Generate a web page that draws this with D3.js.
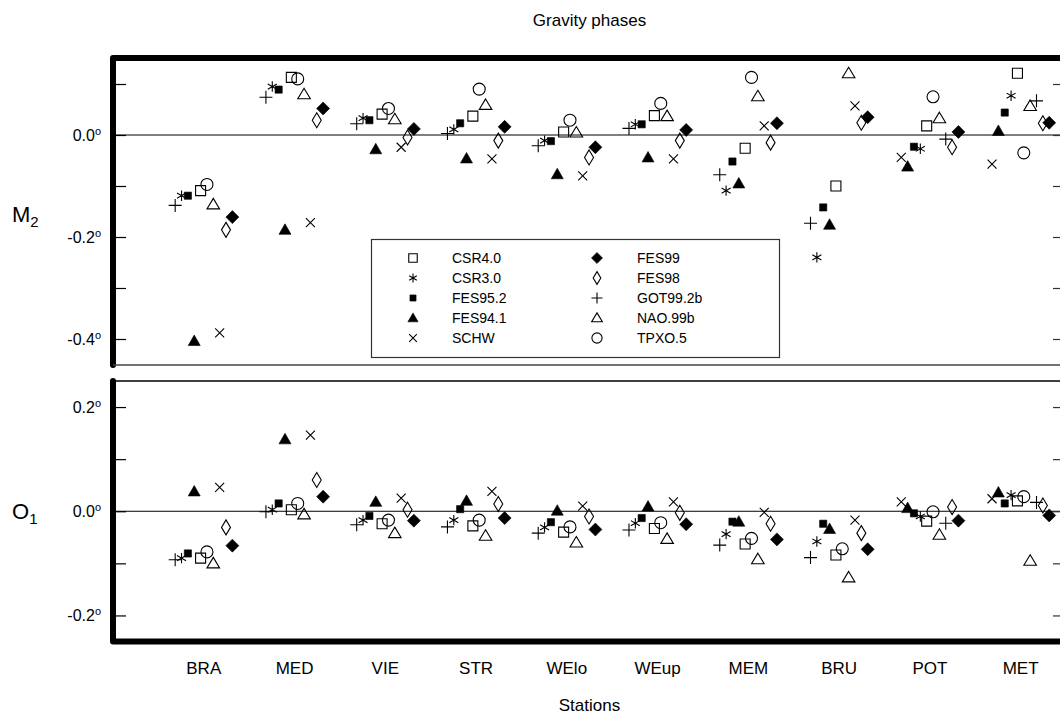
<!DOCTYPE html>
<html>
<head>
<meta charset="utf-8">
<script src="https://cdn.jsdelivr.net/npm/d3@7"></script>
<style>
  html, body { margin: 0; padding: 0; background: #fff; }
  svg { display: block; font-family: "Liberation Sans", Arial, Helvetica, sans-serif; }
</style>
</head>
<body>
<svg id="chart" width="1060" height="719"></svg>
<script>
// Stations along the x axis
const stations = ["BRA", "MED", "VIE", "STR", "WElo", "WEup", "MEM", "BRU", "POT", "MET"];

// Tide models (legend order: left column, then right column)
const models = ["CSR4.0", "CSR3.0", "FES95.2", "FES94.1", "SCHW",
                "FES99", "FES98", "GOT99.2b", "NAO.99b", "TPXO.5"];

// Side-by-side slot order of the models inside each station group
const slotsWest = ["GOT99.2b", "CSR3.0", "FES95.2", "FES94.1", "CSR4.0", "TPXO.5", "NAO.99b", "SCHW", "FES98", "FES99"];
const slotsEast = ["SCHW", "FES94.1", "FES95.2", "CSR3.0", "CSR4.0", "TPXO.5", "NAO.99b", "GOT99.2b", "FES98", "FES99"];
const eastStations = ["POT", "MET"];

// M2 gravity phases (degrees), one value per station
const m2_CSR40  = [-0.109, 0.113, 0.041, 0.037, 0.006, 0.038, -0.026, -0.100, 0.018, 0.121];
const m2_CSR30  = [-0.119, 0.095, 0.033, 0.011, -0.011, 0.021, -0.109, -0.240, -0.027, 0.077];
const m2_FES952 = [-0.119, 0.089, 0.029, 0.023, -0.012, 0.021, -0.052, -0.142, -0.023, 0.044];
const m2_FES941 = [-0.404, -0.186, -0.028, -0.046, -0.077, -0.044, -0.095, -0.176, -0.062, 0.008];
const m2_SCHW   = [-0.388, -0.172, -0.024, -0.047, -0.080, -0.047, 0.018, 0.057, -0.044, -0.057];
const m2_FES99  = [-0.161, 0.052, 0.012, 0.016, -0.024, 0.010, 0.023, 0.035, 0.006, 0.024];
const m2_FES98  = [-0.186, 0.029, -0.005, -0.011, -0.044, -0.011, -0.015, 0.024, -0.024, 0.023];
const m2_GOT    = [-0.138, 0.074, 0.022, 0.003, -0.021, 0.013, -0.078, -0.173, -0.008, 0.067];
const m2_NAO    = [-0.136, 0.080, 0.031, 0.059, 0.005, 0.037, 0.076, 0.121, 0.033, 0.057];
const m2_TPXO   = [-0.097, 0.110, 0.052, 0.090, 0.029, 0.062, 0.113, null, 0.075, -0.035];

// O1 gravity phases (degrees), one value per station
const o1_CSR40  = [-0.090, 0.003, -0.024, -0.028, -0.040, -0.033, -0.063, -0.084, -0.019, 0.020];
const o1_CSR30  = [-0.090, 0.003, -0.017, -0.017, -0.031, -0.023, -0.044, -0.058, -0.010, 0.031];
const o1_FES952 = [-0.081, 0.015, -0.009, 0.004, -0.021, -0.013, -0.020, -0.024, -0.004, 0.015];
const o1_FES941 = [0.038, 0.138, 0.018, 0.020, 0.001, 0.009, -0.020, -0.034, 0.006, 0.036];
const o1_SCHW   = [0.046, 0.146, 0.025, 0.038, 0.010, 0.018, -0.002, -0.017, 0.018, 0.024];
const o1_FES99  = [-0.066, 0.028, -0.018, -0.013, -0.035, -0.025, -0.054, -0.073, -0.018, -0.008];
const o1_FES98  = [-0.031, 0.060, 0.003, 0.014, -0.010, -0.003, -0.024, -0.042, 0.008, 0.011];
const o1_GOT    = [-0.093, -0.001, -0.026, -0.030, -0.042, -0.036, -0.065, -0.089, -0.023, 0.017];
const o1_NAO    = [-0.100, -0.006, -0.042, -0.047, -0.060, -0.053, -0.092, -0.127, -0.045, -0.095];
const o1_TPXO   = [-0.078, 0.015, -0.017, -0.017, -0.030, -0.022, -0.052, -0.072, -0.001, 0.028];

// Tick values
const m2Ticks = [0.1, 0.0, -0.1, -0.2, -0.3, -0.4];
const m2Labels = [0.0, -0.2, -0.4];
const o1Ticks = [0.2, 0.1, 0.0, -0.1, -0.2];
const o1Labels = [0.2, 0.0, -0.2];

const m2Series = {
  "CSR4.0": m2_CSR40, "CSR3.0": m2_CSR30, "FES95.2": m2_FES952, "FES94.1": m2_FES941, "SCHW": m2_SCHW,
  "FES99": m2_FES99, "FES98": m2_FES98, "GOT99.2b": m2_GOT, "NAO.99b": m2_NAO, "TPXO.5": m2_TPXO
};
const o1Series = {
  "CSR4.0": o1_CSR40, "CSR3.0": o1_CSR30, "FES95.2": o1_FES952, "FES94.1": o1_FES941, "SCHW": o1_SCHW,
  "FES99": o1_FES99, "FES98": o1_FES98, "GOT99.2b": o1_GOT, "NAO.99b": o1_NAO, "TPXO.5": o1_TPXO
};

// Marker shape per model
const shapeOf = {
  "CSR4.0": "square", "CSR3.0": "asterisk", "FES95.2": "fsquare", "FES94.1": "ftriangle", "SCHW": "cross",
  "FES99": "fdiamond", "FES98": "odiamond", "GOT99.2b": "plus", "NAO.99b": "otriangle", "TPXO.5": "circle"
};

function symbolPath(kind, k) {
  const s = v => (v * k).toFixed(2);
  switch (kind) {
    case "square":    return `M${s(-5)},${s(-5)}H${s(5)}V${s(5)}H${s(-5)}Z`;
    case "fsquare":   return `M${s(-3.6)},${s(-3.6)}H${s(3.6)}V${s(3.6)}H${s(-3.6)}Z`;
    case "ftriangle": return `M0,${s(-6)}L${s(6)},${s(4.5)}L${s(-6)},${s(4.5)}Z`;
    case "otriangle": return `M0,${s(-6)}L${s(6.3)},${s(4.5)}L${s(-6.3)},${s(4.5)}Z`;
    case "cross":     return `M${s(-4.5)},${s(-4.5)}L${s(4.5)},${s(4.5)}M${s(-4.5)},${s(4.5)}L${s(4.5)},${s(-4.5)}`;
    case "plus":      return `M${s(-6.5)},0H${s(6.5)}M0,${s(-6.5)}V${s(6.5)}`;
    case "fdiamond":  return `M0,${s(-6.5)}L${s(6.5)},0L0,${s(6.5)}L${s(-6.5)},0Z`;
    case "odiamond":  return `M0,${s(-7.5)}L${s(4.5)},0L0,${s(7.5)}L${s(-4.5)},0Z`;
    case "asterisk": {
      const r = 5.2, c = Math.cos(Math.PI / 6) * r, h = Math.sin(Math.PI / 6) * r;
      return `M0,${s(-r)}V${s(r)}M${s(-c)},${s(-h)}L${s(c)},${s(h)}M${s(-c)},${s(h)}L${s(c)},${s(-h)}`;
    }
    case "circle": {
      const r = 6 * k;
      return `M${r},0A${r},${r},0,1,1,${-r},0A${r},${r},0,1,1,${r},0Z`;
    }
  }
}
const filled = kind => kind === "fsquare" || kind === "ftriangle" || kind === "fdiamond";

function drawSymbol(g, kind, k) {
  g.append("path")
    .attr("d", symbolPath(kind, k))
    .attr("fill", filled(kind) ? "#000" : "none")
    .attr("stroke", "#000")
    .attr("stroke-width", filled(kind) ? 0.6 : 1.1);
}

const svg = d3.select("#chart");

// Layout
const plotLeft = 113, plotRight = 1066;
const top1 = 58, bottom1 = 365;
const top2 = 381, bottom2 = 641.5;

const x = d3.scaleLinear().domain([0, 10.5]).range([plotLeft, plotRight]);
const slotWidth = 0.07;
const yM2 = d3.scaleLinear().domain([-0.451, 0.151]).range([bottom1, top1]);
const yO1 = d3.scaleLinear().domain([-0.25, 0.25]).range([bottom2, top2]);

function xFor(station, model) {
  const order = eastStations.includes(station) ? slotsEast : slotsWest;
  const slot = order.indexOf(model);
  return x(stations.indexOf(station) + 1 + (slot - 4.5) * slotWidth);
}

const degLabel = (sel, v) => {
  sel.text(null);
  sel.append("tspan").text(v.toFixed(1));
  sel.append("tspan").attr("font-size", "11px").attr("dy", "-6").text("o");
};

function panel(y, ticks, labels, series, top, bottom, thickTop) {
  const g = svg.append("g");

  // zero reference line
  g.append("line")
    .attr("x1", plotLeft).attr("x2", plotRight)
    .attr("y1", y(0)).attr("y2", y(0))
    .attr("stroke", "#000").attr("stroke-width", 1);

  // inward ticks on the left and right sides
  const leftAxis = d3.axisRight(y).tickValues(ticks).tickSize(13).tickFormat("");
  g.append("g").attr("transform", `translate(${plotLeft},0)`).call(leftAxis)
    .call(a => a.select(".domain").remove())
    .call(a => a.selectAll("line").attr("stroke-width", 1.2));
  const rightAxis = d3.axisLeft(y).tickValues(ticks).tickSize(13).tickFormat("");
  g.append("g").attr("transform", `translate(${plotRight},0)`).call(rightAxis)
    .call(a => a.select(".domain").remove())
    .call(a => a.selectAll("line").attr("stroke", "#333").attr("stroke-width", 1.2));

  // tick labels
  g.selectAll("text.tl").data(labels).join("text")
    .attr("class", "tl")
    .attr("x", 101).attr("y", d => y(d) + 6)
    .attr("text-anchor", "end").attr("font-size", "16px")
    .each(function (d) { degLabel(d3.select(this), d); });

  // frame
  if (thickTop) {
    g.append("path")
      .attr("d", `M${plotLeft},${bottom}V${top}H${plotRight}`)
      .attr("fill", "none").attr("stroke", "#000").attr("stroke-width", 6)
      .attr("stroke-linecap", "round").attr("stroke-linejoin", "round");
    g.append("line").attr("x1", plotLeft).attr("x2", plotRight)
      .attr("y1", bottom).attr("y2", bottom)
      .attr("stroke", "#444").attr("stroke-width", 1.4);
  } else {
    g.append("line").attr("x1", plotLeft).attr("x2", plotRight)
      .attr("y1", top).attr("y2", top)
      .attr("stroke", "#000").attr("stroke-width", 1.4);
    g.append("path")
      .attr("d", `M${plotLeft},${top}V${bottom}H${plotRight}`)
      .attr("fill", "none").attr("stroke", "#000").attr("stroke-width", 6)
      .attr("stroke-linecap", "round").attr("stroke-linejoin", "round");
  }

  // markers
  const points = [];
  models.forEach(m => {
    series[m].forEach((v, i) => {
      if (v !== null) points.push({ model: m, station: stations[i], value: v });
    });
  });
  g.selectAll("g.pt").data(points).join("g")
    .attr("class", "pt")
    .attr("transform", d => `translate(${xFor(d.station, d.model)},${y(d.value)})`)
    .each(function (d) { drawSymbol(d3.select(this), shapeOf[d.model], 1); });
}

panel(yM2, m2Ticks, m2Labels, m2Series, top1, bottom1, true);
panel(yO1, o1Ticks, o1Labels, o1Series, top2, bottom2, false);

// Panel names
const panelName = (main, sub, yBase) => {
  const t = svg.append("text").attr("x", 12).attr("y", yBase).attr("font-size", "22px");
  t.append("tspan").text(main);
  t.append("tspan").attr("font-size", "15px").attr("dy", "5").text(sub);
};
panelName("M", "2", 222);
panelName("O", "1", 519);

// Legend
const legend = svg.append("g");
legend.append("rect")
  .attr("x", 371.5).attr("y", 239.5).attr("width", 408).attr("height", 118)
  .attr("fill", "#fff").attr("stroke", "#333").attr("stroke-width", 1.2);
const legendCols = [{ sx: 413, tx: 452 }, { sx: 597, tx: 637 }];
models.forEach((m, i) => {
  const col = legendCols[Math.floor(i / 5)];
  const cy = 258 + (i % 5) * 20;
  const sg = legend.append("g").attr("transform", `translate(${col.sx},${cy})`);
  drawSymbol(sg, shapeOf[m], 0.85);
  legend.append("text").attr("x", col.tx).attr("y", cy + 5)
    .attr("font-size", "14px").text(m);
});

// Station labels along the bottom
svg.selectAll("text.st").data(stations).join("text")
  .attr("class", "st")
  .attr("x", (d, i) => x(i + 1)).attr("y", 674)
  .attr("text-anchor", "middle").attr("font-size", "17px")
  .text(d => d);

// Titles
const midX = (plotLeft + plotRight) / 2;
svg.append("text").attr("x", midX).attr("y", 26)
  .attr("text-anchor", "middle").attr("font-size", "17px").text("Gravity phases");
svg.append("text").attr("x", midX).attr("y", 711)
  .attr("text-anchor", "middle").attr("font-size", "17px").text("Stations");
</script>
</body>
</html>
